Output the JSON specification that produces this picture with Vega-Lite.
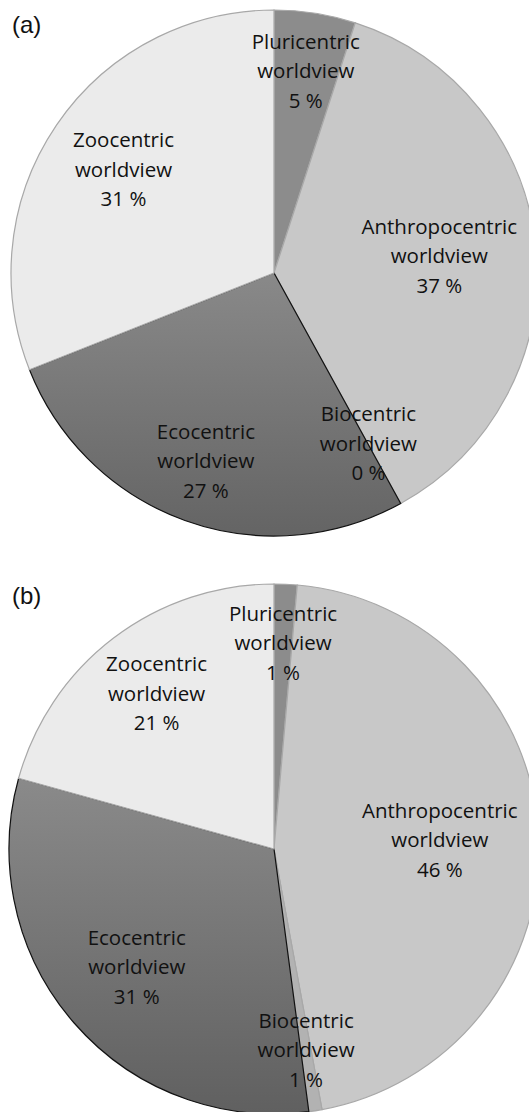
{
  "$schema": "https://vega.github.io/schema/vega-lite/v6.json",
  "padding": 0,
  "background": "white",
  "spacing": 30,
  "config": {"view": {"stroke": null}},
  "datasets": {
    "a": [
      {"category": "Pluricentric", "rank": 1, "value": 5, "label": "Pluricentric\nworldview\n5 %"},
      {"category": "Anthropocentric", "rank": 2, "value": 37, "label": "Anthropocentric\nworldview\n37 %"},
      {"category": "Biocentric", "rank": 3, "value": 0, "label": "Biocentric\nworldview\n0 %"},
      {"category": "Ecocentric", "rank": 4, "value": 27, "label": "Ecocentric\nworldview\n27 %"},
      {"category": "Zoocentric", "rank": 5, "value": 31, "label": "Zoocentric\nworldview\n31 %"}
    ],
    "b": [
      {"category": "Pluricentric", "rank": 1, "value": 1.4, "label": "Pluricentric\nworldview\n1 %"},
      {"category": "Anthropocentric", "rank": 2, "value": 45.7, "label": "Anthropocentric\nworldview\n46 %"},
      {"category": "Biocentric", "rank": 3, "value": 0.8, "label": "Biocentric\nworldview\n1 %"},
      {"category": "Ecocentric", "rank": 4, "value": 31.4, "label": "Ecocentric\nworldview\n31 %"},
      {"category": "Zoocentric", "rank": 5, "value": 20.7, "label": "Zoocentric\nworldview\n21 %"}
    ]
  },
  "vconcat": [
    {
      "data": {"name": "a"},
      "width": 548,
      "height": 546,
      "title": {"text": "(a)", "anchor": "start", "frame": "group", "offset": -57, "dx": 12, "baseline": "alphabetic", "font": "Liberation Sans", "fontSize": 24, "fontWeight": "normal", "color": "#111"},
      "layer": [
        {
          "mark": {"type": "arc", "radius": 263, "strokeWidth": 1.2},
          "encoding": {
            "theta": {"field": "value", "type": "quantitative", "stack": true},
            "order": {"field": "rank", "type": "quantitative"},
            "fill": {
              "condition": {"test": "datum.category === 'Ecocentric'", "value": {"gradient": "linear", "x1": 0, "y1": 0, "x2": 0, "y2": 1, "stops": [{"offset": 0, "color": "#898989"}, {"offset": 1, "color": "#646464"}]}},
              "field": "category", "type": "nominal",
              "scale": {"domain": ["Pluricentric", "Anthropocentric", "Biocentric", "Ecocentric", "Zoocentric"], "range": ["#8c8c8c", "#c8c8c8", "#b2b2b2", "#7a7a7a", "#ebebeb"]},
              "legend": null
            },
            "stroke": {
              "condition": {"test": "datum.category === 'Ecocentric'", "value": "#111111"},
              "value": "#a8a8a8"
            }
          }
        },
        {
          "mark": {"type": "text", "font": "Open Sans", "fontSize": 20.5, "lineHeight": 29.5, "lineBreak": "\n", "color": "#111111", "align": "center", "baseline": "middle", "dy": -29.5,
            "radius": {"expr": "datum.category === 'Anthropocentric' ? 166 : datum.category === 'Zoocentric' ? 182 : datum.category === 'Pluricentric' ? 203 : datum.category === 'Biocentric' ? 196 : 201"}},
          "encoding": {
            "theta": {"field": "value", "type": "quantitative", "stack": true},
            "order": {"field": "rank", "type": "quantitative"},
            "text": {"field": "label", "type": "nominal"}
          }
        }
      ]
    },
    {
      "data": {"name": "b"},
      "width": 548,
      "height": 546,
      "title": {"text": "(b)", "anchor": "start", "frame": "group", "offset": -52, "dx": 12, "baseline": "alphabetic", "font": "Liberation Sans", "fontSize": 24, "fontWeight": "normal", "color": "#111"},
      "layer": [
        {
          "mark": {"type": "arc", "radius": 265, "strokeWidth": 1.2},
          "encoding": {
            "theta": {"field": "value", "type": "quantitative", "stack": true},
            "order": {"field": "rank", "type": "quantitative"},
            "fill": {
              "condition": {"test": "datum.category === 'Ecocentric'", "value": {"gradient": "linear", "x1": 0, "y1": 0, "x2": 0, "y2": 1, "stops": [{"offset": 0, "color": "#8a8a8a"}, {"offset": 1, "color": "#606060"}]}},
              "field": "category", "type": "nominal",
              "scale": {"domain": ["Pluricentric", "Anthropocentric", "Biocentric", "Ecocentric", "Zoocentric"], "range": ["#8c8c8c", "#c6c6c6", "#b2b2b2", "#7a7a7a", "#e8e8e8"]},
              "legend": null
            },
            "stroke": {
              "condition": {"test": "datum.category === 'Ecocentric'", "value": "#111111"},
              "value": "#a8a8a8"
            }
          }
        },
        {
          "mark": {"type": "text", "font": "Open Sans", "fontSize": 20.5, "lineHeight": 29.5, "lineBreak": "\n", "color": "#111111", "align": "center", "baseline": "middle", "dy": -29.5,
            "radius": {"expr": "datum.category === 'Anthropocentric' ? 166 : datum.category === 'Zoocentric' ? 194 : datum.category === 'Pluricentric' ? 205 : datum.category === 'Biocentric' ? 205 : 182"}},
          "encoding": {
            "theta": {"field": "value", "type": "quantitative", "stack": true},
            "order": {"field": "rank", "type": "quantitative"},
            "text": {"field": "label", "type": "nominal"}
          }
        }
      ]
    }
  ]
}
